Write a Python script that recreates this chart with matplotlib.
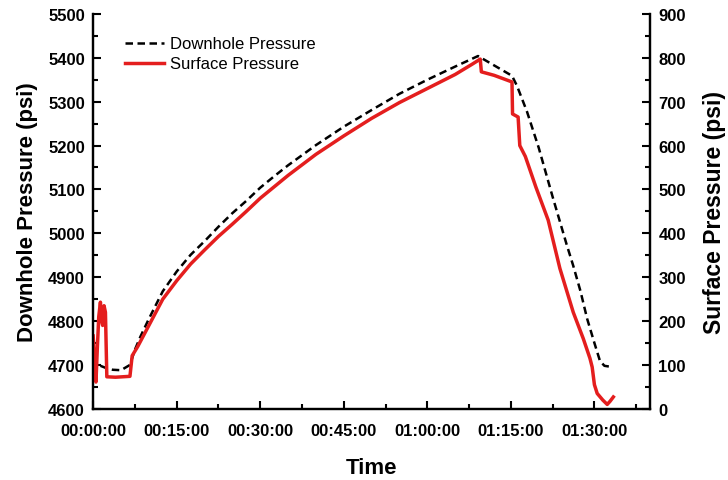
import matplotlib
matplotlib.use('Agg')
import matplotlib.pyplot as plt
from matplotlib.ticker import FixedLocator, MultipleLocator, FuncFormatter
from matplotlib.transforms import ScaledTranslation

plt.rcParams['font.family'] = ['Liberation Sans', 'DejaVu Sans']

# time in minutes since start
downhole_t = [1.3, 2.5, 3.5, 5.0, 6.6, 7.5, 8.5, 10, 12.5, 15, 17.5, 20, 22.5, 25, 27.5,
              30, 32.5, 35, 37.5, 40, 45, 50, 55, 60, 65, 69.1, 75.2, 76.1, 77.9, 80,
              82.5, 85, 86.2, 87.5, 88.7, 90, 91, 91.8, 92.8]
downhole_p = [4698, 4692, 4689, 4688, 4700, 4735, 4765, 4805, 4868, 4913, 4951, 4982, 5015, 5046, 5074,
              5104, 5130, 5155, 5178, 5201, 5243, 5281, 5318, 5350, 5380, 5404, 5359, 5336, 5277, 5195,
              5083, 4975, 4926, 4868, 4805, 4750, 4709, 4698, 4696]

surface_t = [0.0, 0.2, 0.5, 0.75, 1.0, 1.3, 1.5, 1.7, 1.95, 2.2, 2.45, 4.0, 6.6, 7.0, 8,
             10, 12.5, 15, 17.5, 20, 22.5, 25, 27.5, 30, 32.5, 35, 37.5, 40, 45, 50,
             55, 60, 65, 68, 69.5, 69.7, 72, 75.2, 75.3, 76.3, 76.6, 77.6, 79.5, 81.7,
             83.8, 86.2, 88.0, 89.2, 89.6, 90.0, 90.5, 91.5, 92.3, 92.8, 93.4]
surface_s = [166, 120, 61, 140, 210, 243, 200, 190, 235, 220, 73, 72, 74, 121, 142,
             190, 250, 292, 330, 362, 393, 421, 450, 480, 506, 532, 556, 580, 622, 662,
             698, 730, 762, 785, 797, 768, 760, 745, 672, 665, 600, 575, 505, 430,
             320, 220, 160, 115, 95, 55, 35, 20, 10, 17, 27]

time_ticks = [0, 15, 30, 45, 60, 75, 90]


def hms(m, pos=None):
    m = int(round(m))
    return '%02d:%02d:00' % (m // 60, m % 60)


fig = plt.figure(figsize=(7.28, 4.81), dpi=100)
ax = fig.add_axes([0.128, 0.148, 0.765, 0.821])
ax2 = ax.twinx()

l1, = ax.plot(downhole_t, downhole_p, color='black', lw=1.8, dashes=(3, 1.8),
              label='Downhole Pressure')
l2, = ax2.plot(surface_t, surface_s, color='#e41e1e', lw=2.5, label='Surface Pressure')

ax.set_xlim(0, 100)
ax.set_ylim(4600, 5500)
ax2.set_ylim(0, 900)

ax.xaxis.set_major_locator(FixedLocator(time_ticks))
ax.xaxis.set_minor_locator(MultipleLocator(7.5))
ax.xaxis.set_major_formatter(FuncFormatter(hms))
ax.yaxis.set_major_locator(MultipleLocator(100))
ax.yaxis.set_minor_locator(MultipleLocator(50))
ax2.yaxis.set_major_locator(MultipleLocator(100))
ax2.yaxis.set_minor_locator(MultipleLocator(50))

for a in (ax, ax2):
    a.spines['top'].set_visible(False)
    for s in a.spines.values():
        s.set_linewidth(1.6)
    a.tick_params(which='major', direction='in', length=6, width=1.5, labelsize=12)
    a.tick_params(which='minor', direction='in', length=3.5, width=1.5)
    for lab in a.get_xticklabels() + a.get_yticklabels():
        lab.set_fontweight('bold')
ax.tick_params(axis='x', pad=10)
ax.tick_params(axis='y', pad=6)
ax2.tick_params(axis='y', pad=6)

# bottom y labels sit a bit lower in the original
for a in (ax, ax2):
    a.get_yticklabels()[0].set_transform(
        a.get_yticklabels()[0].get_transform() + ScaledTranslation(0, -7 / 72, fig.dpi_scale_trans))

ax.set_xlabel('Time', fontsize=16, fontweight='bold', labelpad=14)
ax.set_ylabel('Downhole Pressure (psi)', fontsize=16, fontweight='bold', labelpad=7)
ax2.set_ylabel('Surface Pressure (psi)', fontsize=16.5, fontweight='bold', rotation=90, labelpad=12)

ax.legend(handles=[l1, l2], loc='upper left', bbox_to_anchor=(0.0575, 0.943), frameon=False,
          fontsize=12, borderpad=0, borderaxespad=0, handlelength=2.3, handletextpad=0.4,
          labelspacing=0.3)

fig.savefig('out.png', dpi=100)
